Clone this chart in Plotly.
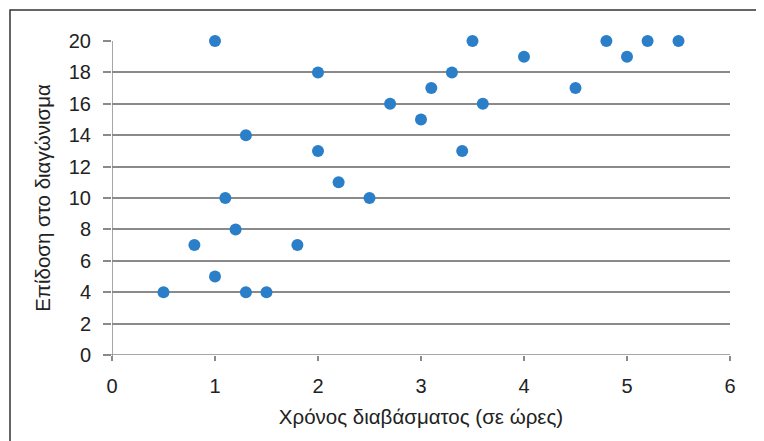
import plotly.graph_objects as go

hours = [0.5, 0.8, 1.0, 1.0, 1.1, 1.2, 1.3, 1.3, 1.5, 1.8, 2.0, 2.0, 2.2, 2.5, 2.7,
         3.0, 3.1, 3.3, 3.4, 3.5, 3.6, 4.0, 4.5, 4.8, 5.0, 5.2, 5.5]
scores = [4, 7, 5, 20, 10, 8, 14, 4, 4, 7, 18, 13, 11, 10, 16,
          15, 17, 18, 13, 20, 16, 19, 17, 20, 19, 20, 20]

x_title = "Χρόνος διαβάσματος (σε ώρες)"
y_title = "Επίδοση στο διαγώνισμα"

W, H = 764, 441
L, R, T, B = 104, 42, 33, 94
pw, ph = W - L - R, H - T - B

fig = go.Figure(go.Scatter(
    x=hours, y=scores, mode="markers",
    marker=dict(size=12, color="#2A7FC8", line=dict(width=0)),
    cliponaxis=False, showlegend=False,
))

font = "Liberation Sans, Arial, sans-serif"
grid = "#8a8a8a"

fig.update_layout(
    width=W, height=H,
    margin=dict(l=L, r=R, t=T, b=B),
    plot_bgcolor="white", paper_bgcolor="white",
    font=dict(family=font, size=20, color="#222222"),
    xaxis=dict(
        range=[0, 6], dtick=1, tick0=0, showgrid=False, zeroline=False,
        showline=False, ticks="outside", ticklen=5, tickwidth=1.5, tickcolor=grid,
        ticklabelstandoff=8,
        title=dict(text=x_title, font=dict(size=20.5), standoff=13),
        tickfont=dict(size=20),
    ),
    yaxis=dict(
        range=[0, 20], dtick=2, tick0=0, showgrid=True, gridcolor=grid, gridwidth=1.5,
        zeroline=False, showline=False, ticks="outside", ticklen=8, tickwidth=1.5,
        tickcolor=grid, ticklabelstandoff=8,
        title=dict(text=y_title, font=dict(size=20.5), standoff=12),
        tickfont=dict(size=20),
    ),
    shapes=[
        dict(type="line", xref="x", yref="paper", x0=0, x1=0, y0=-5/ph, y1=1,
             line=dict(color=grid, width=1.5)),
        dict(type="line", xref="paper", yref="y", x0=-8/pw, x1=1, y0=0, y1=0,
             line=dict(color=grid, width=1.5)),
        dict(type="rect", xref="paper", yref="paper",
             x0=(2 - L) / pw, x1=(W + 20 - L) / pw,
             y0=-(B + 20) / ph, y1=1 + (T - 2) / ph,
             line=dict(color="#333333", width=1.5), layer="below"),
    ],
)

fig.write_html("out.html")
